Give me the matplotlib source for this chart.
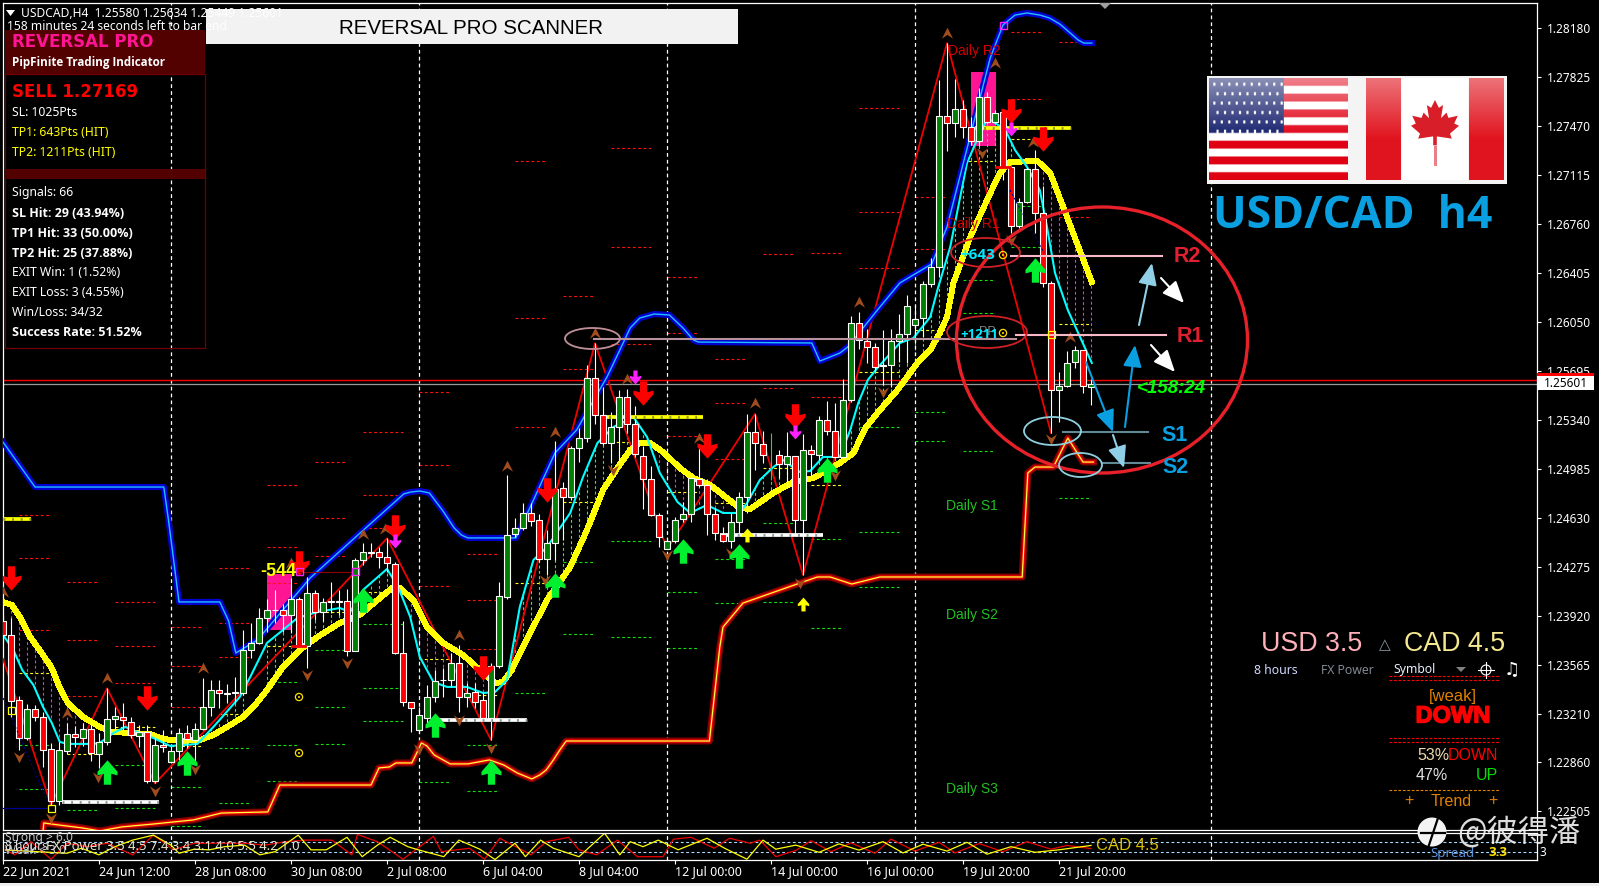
import numpy as np
import matplotlib
matplotlib.use("Agg")
import matplotlib.pyplot as plt
from matplotlib.path import Path
from matplotlib.patches import Rectangle, Ellipse, Polygon, Circle
import matplotlib.patheffects as pe
import logging
logging.getLogger("matplotlib.font_manager").setLevel(logging.ERROR)

plt.rcParams['font.family'] = ['Noto Sans', 'DejaVu Sans']

# candles, in points (1e-5)
opens = [123882,123778,123307,123036,123242,123188,122952,122580,122942,123060,123036,123097,122920,123002,123169,123186,123152,123051,123075,122725,
         122981,122862,122937,123068,123019,123097,123261,123379,123355,123358,123358,123672,123720,123901,123960,123959,123928,124039,123701,124087,
         123950,124020,124020,124029,123667,124324,124378,124385,124343,124293,123652,123292,123090,123179,123329,123452,123454,123580,123334,123365,
         123307,123177,123553,124054,124510,124554,124668,124612,124329,124445,124844,124783,125134,125206,125641,125373,125175,125291,125508,125308,
         125081,124914,124653,124407,124460,124619,124655,124914,124866,124655,124515,124460,124602,124784,125255,125168,np.nan,125083,125020,125076,
         124612,125119,125088,125342,125257,125073,125482,126040,125914,125866,125731,125735,125909,125960,126025,126078,126325,126448,127542,127492,
         127593,127463,127361,127680,127499,127571,127173,126745,126919,127158,126839,126332,125556,125585,125759,125846,125580]
highs = [123925,123901,123338,123280,123273,123225,122995,123007,123145,123121,123140,123140,123068,123394,123261,123285,123188,123128,123128,123044,
         123092,122971,123104,123128,123140,123466,123454,123454,123425,123478,123817,123865,123974,124041,124107,124005,124191,124058,124198,124107,
         124051,124162,124107,124112,124336,124445,124445,124421,124481,124312,123882,123292,123261,123418,123527,123539,123648,123708,123430,123430,
         123370,123575,124167,124941,124626,124735,124735,124658,124542,125187,124892,125151,125279,125738,125895,125581,125400,125557,125561,125443,
         125151,125006,124668,124489,124639,124747,124941,125134,124909,124699,124566,124663,124820,125380,125383,125259,np.nan,125122,125250,125076,
         125235,125158,125371,125477,125460,125634,126093,126124,125996,125895,125992,125996,126108,126245,126173,126346,126513,127803,128071,127810,
         127658,127535,127745,127716,127586,127586,127187,126948,127165,127296,127035,126346,125687,125839,125875,125846,125634]
lows = [123720,123188,122947,123019,123157,122826,122548,122548,122918,122971,122976,122870,122814,122983,123092,123092,123031,122971,122710,122705,
        122935,122850,122874,122959,122862,123092,123193,123249,123285,123285,123346,123611,123715,123805,123865,123805,123793,123672,123544,123889,
        123884,123938,123925,123631,123667,124288,124348,124264,124240,123643,123268,123075,123068,123116,123297,123329,123406,123225,123261,123249,
        123164,123020,123539,124039,124494,124542,124571,124312,124216,124324,124469,124759,125037,125182,125310,125158,125025,125025,125243,125073,
        124694,124643,124416,124402,124445,124602,124602,124856,124506,124469,124455,124409,124518,124663,124977,125025,np.nan,124916,124856,124518,
        124216,124928,125049,125231,125061,125054,125472,125851,125750,125690,125593,125581,125762,125750,125895,125940,126303,126375,127289,127390,
        127383,127332,127325,127492,127492,127078,126694,126730,126912,126694,126303,125245,125324,125578,125716,125534,125449]
closes = [123780,123304,123036,123242,123188,122949,122580,122944,123060,123039,123097,122923,123002,123169,123191,123162,123053,123075,122725,122981,
          122966,122937,123068,123024,123097,123256,123379,123358,123360,123365,123669,123720,123901,123959,123965,123928,124039,123696,124083,123945,
          124022,124024,124029,123667,124322,124380,124382,124343,124300,123652,123292,123254,123198,123329,123445,123456,123580,123329,123358,123297,
          123177,123553,124061,124508,124554,124668,124605,124329,124445,124837,124779,125134,125206,125641,125373,125175,125291,125508,125308,125090,
          124914,124653,124494,124465,124617,124655,124916,124866,124658,124518,124460,124602,124783,125255,125170,125083,np.nan,125018,125076,124612,
          125119,125090,125342,125257,125069,125482,126040,125917,125866,125726,125735,125909,125960,126163,126069,126325,126448,127542,127492,127593,
          127463,127361,127680,127499,127564,127173,126745,126919,127158,126839,126332,125556,125585,125752,125846,125585,125601]

blue_bars = [0,4,20.1,20.7,22,27.1,28.2,29.1,31.8,38.4,43.4,50.1,51,52.1,53.3,55,56.4,57.3,58.1,64.1,65.9,69,71.7,75.5,77.1,78.4,79.6,81.4,83.3,85,86.3,86.9,101.1,102.1,104.6,105.6,109.3,112.1,116.1,118,123.4,125,126.5,128,129.6,130.8,132.1,133.4,134.4,135.1,136.1]
blue_vals = [125179,124853,124853,124607,124020,124020,123882,123650,123744,124194,124455,124803,124817,124824,124810,124679,124556,124505,124484,124484,124708,125100,125266,125651,125846,126006,126078,126107,126100,126006,125919,125904,125897,125766,125824,125868,126136,126332,126470,126738,127963,128202,128274,128289,128274,128253,128209,128144,128093,128071,128071]

band_bars = [5,5.1,7,9.9,12.1,14.8,18.9,23.8,27.3,33.1,34.6,46,47,48.3,49.1,51.1,51.6,52.3,53,53.9,55.9,58.1,60.8,62.6,64.3,66.1,67.1,67.9,68.8,69.6,70.4,88.3,89.6,90,92.5,95,100,101.8,103.4,106.1,109.6,127.4,128.1,129,131.3,133.1,135,136.3]
band_vals = [122353,122418,122403,122382,122360,122389,122411,122440,122490,122498,122693,122693,122817,122824,122853,122853,122911,122998,122976,122911,122846,122846,122875,122838,122780,122737,122766,122802,122875,122947,123012,123012,123694,123838,124012,124063,124165,124201,124201,124150,124201,124201,124955,124998,124998,125208,125034,125034]

yellow_bars = [0,1.1,2.1,3.4,5,6.1,7.1,8.1,10,12.1,13.6,16.1,18.4,20,22.1,24.6,26.3,28.4,30,31.3,33,35,37.1,39.3,42.1,44.6,46.8,48.8,49.6,51.3,53,55,57.5,59.6,61.5,62.5,63.6,64.6,68,70.9,73,75,76.8,78.4,79.6,80.9,82.5,84.6,86.3,88.4,90,92.1,93.4,96.3,98.8,101.3,104.6,106.3,107.8,109.3,111.8,114.3,115.9,117.1,118,118.8,120.9,123,124.6,125.9,129.3,130.9,133,136.1]
yellow_vals = [124020,123998,123911,123766,123636,123541,123396,123288,123186,123114,123077,123070,123063,123027,123012,123019,123056,123128,123186,123259,123382,123549,123672,123766,123868,123926,124034,124128,124121,124034,123839,123723,123636,123527,123433,123440,123527,123650,124034,124273,124542,124831,124991,125121,125172,125172,125107,124991,124918,124868,124795,124701,124694,124810,124890,124918,125027,125100,125281,125390,125556,125752,125846,125969,126085,126332,126665,126933,127129,127209,127216,127129,126810,126339]

cyan_bars = [0,1.3,2.4,3.8,5,6.1,7.1,8.1,11.3,12.1,13.8,15.3,17.1,18.8,20.9,24.3,26.3,29.6,30.9,33,35,36.8,39.3,42.1,43.4,45,48,49.4,50.9,52.1,53.8,55.5,58,60,61.5,63,64.6,66.3,68,70.9,72.5,74.3,76.3,78.8,80.5,82.1,84.3,85.9,88,90,92.1,93,94.6,96.3,97.5,99.6,100.9,102.5,104.6,105.9,106.9,108.1,109.3,112.1,113.8,115.9,116.8,118.4,120.5,121.9,123.1,125.3,126.5,128,129.6,130.5,131.5,133.1,136.1]
cyan_vals = [123781,123672,123527,123418,123259,123143,123005,122991,122991,122998,123070,123114,123070,123034,122976,122991,123114,123331,123476,123723,123817,123904,123947,123976,123947,124107,124259,124128,123911,123621,123440,123404,123404,123360,123367,123454,123984,124324,124418,124665,124926,125172,125288,125361,125216,124955,124745,124665,124723,124665,124665,124737,124904,124998,125049,124962,124969,125071,125071,125266,125462,125629,125716,125897,125933,126085,126281,126593,127202,127390,127528,127441,127296,127173,127006,126738,126404,126136,125752]

zigzag_bars = [0,6,13,19,48,61,74,83,94,100,118,131]
zigzag_vals = [123607,122548,123394,122705,124481,123020,125895,124402,125383,124216,128071,125245]

# daily pivots
level_starts = [2,8,14,21,27,33,39,45,52,58,64,70,76,83,89,95,101,107,114,120,126,132]
level_ends = [6,12,19,25,31,37,43,50,56,62,68,74,81,87,93,99,105,112,118,124,130,136]
level_red = [[124648,124335,123815],[124168,123746,123341],[124019,123698,123430],[123838,123554,123256],[124265,123865,123619],
             [124869,124417,124156],[125033,124628,124350],[125252,124797,124553],[125543,125016,124133],[124367,124032,123676],
             [127216,126078,125288],[126238,125709],[127310,126593,125890],[126375,125969,125223],[125781,125462,125056],
             [126542,125571],[126549,125506],[127600,126846,126441],[126955,126578],[],[128151,127665],[128079,126810]]
level_yellow = [123502,122918,123112,122975,123211,123703,123950,124094,123604,123348,124157,124745,125179,124817,124737,124991,124868,125687,125991,127216,127376,126035]
level_green = [[122983,122667],[122510],[122838,122528],[122679,122396],[122963,122565],[123440,122983,122722],[123669,123261,122988],
               [123858,123393,123154],[122714],[122983,122652],[123360],[124310,123788],[124462,123766],[124092,123686],[124331,124012],
               [124592,124020],[124476,123831],[125288,124527,124128],[125397,125187],[126354,126114,125114],[126890,126593],[124774]]

period_bars = [21,52,83,114,151]
magenta_bars = list(range(1,11)) + list(range(51,61)) + list(range(82,91)) + list(range(129,137))
green_bars = list(range(23,31)) + list(range(33,50)) + list(range(62,82)) + list(range(93,129))

red_arrow_bars = [1,18,37,49,60,68,80,88,99,126,130]
red_arrow_vals = [124194,123324,124302,124563,123541,124831,125535,125151,125368,127578,127376]
green_arrow_bars = [13,23,45,54,61,69,85,92,103,129]
green_arrow_vals = [122788,122853,124034,123128,122788,124143,124389,124353,124976,126426]
yellow_arrow_bars = [93,100]
yellow_arrow_vals = [124505,124005]
magenta_arrow_bars = [49,79,99,126]
magenta_arrow_vals = [124462,125651,125252,127448]
tip_up_bars = [0,8,13,25,36,45,47.8,57,63,69,74,78,87,94,107,118,124,128.8,133.4]
tip_up_vals = [124092,123215,123469,123541,124302,124513,124549,123781,125005,125252,125969,125636,125208,125462,126194,128144,127926,127354,125940]
tip_down_bars = [2,6,11.9,19,24,38,43,52,57,61,67.8,76.2,83,91,99.6,104,110,122.4,126,131]
tip_down_vals = [122896,122454,122751,122650,122809,123491,123578,122954,123165,122961,124179,124976,124360,124375,124157,124940,125542,127274,126643,125201]

white_strip_start = [7.4,54.5,89.6]
white_strip_end = [19.5,65.5,102.5]
white_strip_vals = [122570,123164,124505]
yellow_strip_start = [0,74.6,121.5]
yellow_strip_end = [3.5,87.5,133.5]
yellow_strip_vals = [124621,125361,127455]
pink_start = [33,121]
pink_end = [36.1,124.1]
pink_low = [123817,127325]
pink_high = [124223,127861]

price_ticks = [1.28180,1.27825,1.27470,1.27115,1.26760,1.26405,1.26050,1.25695,1.25340,1.24985,1.24630,1.24275,1.23920,1.23565,1.23210,1.22860,1.22505]
date_bars = [0,12,24,36,48,60,72,84,96,108,120,132]
date_labels = ['22 Jun 2021','24 Jun 12:00','28 Jun 08:00','30 Jun 08:00','2 Jul 08:00','6 Jul 04:00','8 Jul 04:00','12 Jul 00:00','14 Jul 00:00','16 Jul 00:00','19 Jul 20:00','21 Jul 20:00']

# fx power window
power_y_bars = [0.3,8,9.8,12,14,16.2,18.8,21,22,23.9,25.8,27.7,30.2,32.1,34,36.9,38.5,40.4,43,44.9,46.8,48.4,50.6,51.9,55.1,57,59.6,61.5,64,65.3,67.2,68.8,72,75.2,77.1,78.4,80,81.9,84.4,88,90.2,93,95,96.6,99.1,102,104.5,107,110,112.5,115,118,120.5,123,126,129,132,136]
power_y_vals = [3.55,2.5,4.1,2.0,4.6,6.7,8.3,5.1,2.5,3.8,3.6,4.6,5.1,2.0,3.0,8.3,3.6,3.6,7.6,1.4,5.1,7.6,4.6,3.6,1.4,6.7,3.8,0.5,5.7,1.4,6.7,4.1,1.4,8.9,2.0,6.2,4.6,6.7,3.6,7.3,4.1,0.6,6.7,3.8,5.1,2.8,5.5,3.5,6.2,2.6,5.4,3.2,6.0,2.2,4.6,2.8,3.6,5.0]
power_r_bars = [0.3,1.5,3.5,6,8,10.5,13,16.2,18.8,21.3,23.9,26.4,30.2,32.8,35.3,37.9,41.1,43.6,44.3,46.8,50,53.8,54.8,58.3,60.2,62.1,66,67.9,70.7,72,74.2,76.8,79.3,82.5,83.8,86,88.9,90.8,93.4,94.6,96.6,99.1,101,103.5,106,109,111,114,117,119,122,125,128,131,133,136]
power_r_vals = [3.55,2,6.2,0.6,5.7,4.6,5.7,2,8.3,3.6,5.7,5.7,5.7,5.1,6.2,6.7,6.7,2,8.5,6.2,0.6,7.9,3,4.1,0.6,7.3,2,6.2,7.6,3.6,2,6.7,1.4,1.4,7,7.6,4.1,7.3,5.7,6.7,1.4,3.4,6.5,3,5.8,2.5,7,3.2,6,2.6,5.6,3,6.2,3.8,5,4]

panel_rows = [('SL: 1025Pts','white','normal',112),('TP1: 643Pts (HIT)','#ffff00','normal',132),('TP2: 1211Pts (HIT)','#ffff00','normal',152),
              ('Signals: 66','white','normal',192),('SL Hit: 29 (43.94%)','white','bold',213),('TP1 Hit: 33 (50.00%)','white','bold',233),
              ('TP2 Hit: 25 (37.88%)','white','bold',253),('EXIT Win: 1 (1.52%)','white','normal',272),('EXIT Loss: 3 (4.55%)','white','normal',292),
              ('Win/Loss: 34/32','white','normal',312),('Success Rate: 51.52%','white','bold',333)]


def pts(values):
    return np.array(values, dtype=float) / 1e5


W, H = 1599, 886
fig = plt.figure(figsize=(W / 100, H / 100), dpi=100, facecolor='black')

# main chart, bar i sits at pixel 3 + 8 i
ax = fig.add_axes([2.5 / W, (H - 830) / H, 1535 / W, 827.5 / H], facecolor='black')
ax.set_xlim(-0.0625, 191.81)
ax.set_ylim(1.22367, 1.28365)
for s in ax.spines.values():
    s.set_color('white')
    s.set_linewidth(0.9)
ax.yaxis.tick_right()
ax.set_yticks(price_ticks)
ax.set_yticklabels(['%.5f' % p for p in price_ticks])
ax.tick_params(axis='y', colors='white', labelsize=8.5, length=3, width=0.8, pad=4)
ax.set_xticks([])

dash = (0, (2.6, 2.2))
for x0, x1, lo, hi in zip(pink_start, pink_end, pink_low, pink_high):
    ax.add_patch(Rectangle((x0, lo / 1e5), x1 - x0, (hi - lo) / 1e5, color='#ff1493', lw=0, zorder=1))

for x0, x1, r, y, g in zip(level_starts, level_ends, level_red, level_yellow, level_green):
    ax.hlines(pts(r), x0, x1, colors='#ff1010', lw=0.8, linestyles=dash, zorder=2)
    ax.hlines(y / 1e5, x0, x1, colors='#ffff20', lw=0.8, linestyles=dash, zorder=2)
    ax.hlines(pts(g), x0, x1, colors='#10e010', lw=0.8, linestyles=dash, zorder=2)

yl = pts(yellow_vals)
cy = pts(cyan_vals)
for bars, col in ((magenta_bars, '#ff20ff'), (green_bars, '#20ff20')):
    ax.vlines(bars, np.interp(bars, yellow_bars, yl), np.interp(bars, cyan_bars, cy), colors=col, lw=0.8, linestyles=dash, zorder=2)

for b in period_bars:
    ax.axvline(b, color='white', lw=0.9, ls=(0, (3, 2.5)), zorder=2)

ax.axhline(1.25629, color='#ff0000', lw=1, zorder=2)
ax.axhline(1.25601, color='#9a9a9a', lw=0.9, zorder=2)

ax.plot(zigzag_bars, pts(zigzag_vals), color='#f00000', lw=1.3, zorder=3)
ax.plot(yellow_bars, yl, color='#ffff00', lw=3.5, zorder=3, antialiased=False)
ax.plot(cyan_bars, cy, color='#00ffff', lw=1.5, zorder=3)
ax.plot(blue_bars, pts(blue_vals), color='#0000d0', lw=4.4, zorder=3)
ax.plot(blue_bars, pts(blue_vals), color='#20c0ff', lw=1, zorder=3)
ax.plot(band_bars, pts(band_vals), color='#800000', lw=5, zorder=3)
ax.plot(band_bars, pts(band_vals), color='#e80000', lw=2.6, zorder=3)
ax.plot(band_bars, pts(band_vals), color='#ffff40', lw=0.9, zorder=3)

# candles
o, hi_, lo_, c = pts(opens), pts(highs), pts(lows), pts(closes)
bars = np.arange(len(o))
ok = ~np.isnan(o)
ax.vlines(bars[ok], lo_[ok], hi_[ok], colors='white', lw=0.8, zorder=4)
ax.vlines(96, 1.24904, 1.25243, colors='#20e020', lw=0.8, zorder=4)
body_cols = np.where(c[ok] >= o[ok], '#008000', '#ff0000')
ax.bar(bars[ok], (c - o)[ok], bottom=o[ok], width=0.66, color=body_cols, edgecolor='white', linewidth=0.8, zorder=5)

for x0, x1, v in zip(white_strip_start, white_strip_end, white_strip_vals):
    ax.plot([x0, x1], [v / 1e5, v / 1e5], color='white', lw=2.7, zorder=4.5, solid_capstyle='butt')
    ax.plot([x0, x1], [v / 1e5, v / 1e5], color='#8a9a9a', lw=2, ls=(0, (0.7, 2.4)), zorder=4.5)
for x0, x1, v in zip(yellow_strip_start, yellow_strip_end, yellow_strip_vals):
    ax.plot([x0, x1], [v / 1e5, v / 1e5], color='#ffff00', lw=2.7, zorder=4.5, solid_capstyle='butt')
    ax.plot([x0, x1], [v / 1e5, v / 1e5], color='#8a9a20', lw=2, ls=(0, (0.7, 2.4)), zorder=4.5)

down_path = Path([(-.15,.5),(.15,.5),(.15,.05),(.41,.12),(.41,-.03),(0,-.5),(-.41,-.03),(-.41,.12),(-.15,.05),(-.15,.5)])
up_path = Path([(x, -y) for x, y in down_path.vertices])
tip_up = Path([(0,.5),(.48,-.45),(0,-.12),(-.48,-.45),(0,.5)])
tip_down = Path([(x, -y) for x, y in tip_up.vertices])

ax.scatter(tip_up_bars, pts(tip_up_vals), marker=tip_up, s=70, c='#a04c1c', lw=0, zorder=5.5)
ax.scatter(tip_down_bars, pts(tip_down_vals), marker=tip_down, s=70, c='#a04c1c', lw=0, zorder=5.5)
ax.scatter(red_arrow_bars, pts(red_arrow_vals), marker=down_path, s=310, c='#ff0000', lw=0, zorder=6)
ax.scatter(green_arrow_bars, pts(green_arrow_vals), marker=up_path, s=310, c='#00f030', lw=0, zorder=6)
ax.scatter(yellow_arrow_bars, pts(yellow_arrow_vals), marker=up_path, s=100, c='#ffff00', lw=0, zorder=6)
ax.scatter(magenta_arrow_bars, pts(magenta_arrow_vals), marker=down_path, s=100, c='#ff20ff', lw=0, zorder=6)

# power window under the chart
sub = fig.add_axes([2.5 / W, (H - 860) / H, 1535 / W, 27.3 / H], facecolor='black')
sub.set_xlim(-0.0625, 191.81)
sub.set_ylim(0.345, 9.07)
for s in sub.spines.values():
    s.set_color('white')
    s.set_linewidth(0.9)
sub.set_yticks([])
sub.set_xticks(date_bars)
sub.set_xticklabels(date_labels, ha='left')
sub.tick_params(axis='x', colors='white', labelsize=9, length=3, width=0.8, pad=0.5)
sub.axhline(6, color='#a8d8ff', lw=0.8, ls=dash)
sub.axhline(3, color='#a8d8ff', lw=0.8, ls=dash)
for b in period_bars:
    sub.axvline(b, color='white', lw=0.9, ls=(0, (3, 2.5)))
sub.plot(power_r_bars, power_r_vals, color='#f00000', lw=0.9)
sub.plot(power_y_bars, power_y_vals, color='#ffff00', lw=0.9)

# everything hand placed goes on a pixel layer
ov = fig.add_axes([0, 0, 1, 1], zorder=10)
ov.patch.set_alpha(0)
ov.set_axis_off()


def label(x, y, s, **kw):
    kw.setdefault('color', 'white')
    kw.setdefault('va', 'center')
    kw.setdefault('fontsize', 9)
    return ov.text(x, y, s, **kw)


ov.add_patch(Rectangle((0, 883), W, 3, color='#f0f0f0', lw=0))

# header and left panel
ov.add_patch(Polygon([(6, 10), (15, 10), (10.5, 16)], color='white', lw=0))
label(21, 13, 'USDCAD,H4  1.25580 1.25634 1.25449 1.25601', fontsize=8.7)
label(7, 26, '158 minutes 24 seconds left to bar end', fontsize=8.7)
ov.add_patch(Rectangle((5, 30), 200, 44, color='#520000', lw=0))
ov.add_patch(Rectangle((5, 74), 200, 274, fc='none', ec='#700000', lw=0.9))
ov.add_patch(Rectangle((5, 169), 200, 10, color='#520000', lw=0))
label(12, 42, 'REVERSAL PRO', color='#ff1493', fontsize=12, fontweight='bold', family='DejaVu Sans')
label(12, 62, 'PipFinite Trading Indicator', fontsize=8.4, fontweight='bold', family='Open Sans')
label(12, 92, 'SELL 1.27169', color='#ff0000', fontsize=12, fontweight='bold', family='DejaVu Sans')
for txt, col, wt, y in panel_rows:
    if wt == 'bold':
        label(12, y, txt, color=col, fontweight=wt, fontsize=9, family='Open Sans')
    else:
        label(12, y, txt, color=col, fontsize=8.8)

ov.add_patch(Rectangle((206, 9), 532, 35, color='#f2f2f2', lw=0))
label(471, 28, 'REVERSAL PRO SCANNER', color='black', ha='center', fontsize=14.8, family='Liberation Sans')
ov.add_patch(Polygon([(1099, 3), (1111, 3), (1105, 9)], color='#a0a0a0', lw=0))

# flags
ov.add_patch(Rectangle((1206.5, 76), 300, 108, color='#f4f4f4', lw=0))
fh, fw = 65, 130
gloss = np.clip(0.5 - 0.5 * np.arange(fh) / 38, 0, 1)[:, None, None]
us = np.ones((fh, fw, 3))
for row in range(13):
    if row % 2 == 0:
        us[row * 5:(row + 1) * 5] = (0.88, 0.0, 0.08)
us[:35, :70] = (0.08, 0.12, 0.42)
for j in range(3, 35, 6):
    for i in range(4 + (j // 6) % 2 * 3, 68, 7):
        us[j:j + 2, i:i + 2] = 1
us = us * (1 - gloss) + gloss
ca = np.ones((fh, fw, 3))
ca[:, :33] = (0.88, 0.08, 0.12)
ca[:, 97:] = (0.88, 0.08, 0.12)
ca = ca * (1 - gloss * 0.8) + gloss * 0.8
ov.imshow(us, extent=(1209, 1348, 180, 78), aspect='auto', interpolation='bilinear', zorder=1)
ov.imshow(ca, extent=(1366, 1504, 180, 78), aspect='auto', interpolation='bilinear', zorder=1)
half = [(0,-1),(.13,-.72),(.27,-.82),(.2,-.35),(.38,-.55),(.45,-.36),(.76,-.44),(.64,-.16),(.8,-.08),(.5,.2),(.56,.38),(.06,.3),(.06,.62)]
leaf = half + [(-x, y) for x, y in half[::-1]][:-1]
ov.add_patch(Polygon([(1435 + 30 * x, 128 + 28 * y) for x, y in leaf], color='#d81e28', lw=0, zorder=2))
ov.add_patch(Rectangle((1434, 146), 3, 20, color='#e88088', lw=0, zorder=2))
label(1213, 216, 'USD/CAD  h4', color='#0a9fe0', fontsize=32, fontweight='bold', family='Open Sans')

# hand drawn analysis
ov.add_patch(Ellipse((1102, 340), 291, 266, fc='none', ec='#e8202a', lw=2.4, zorder=4))
for (x0, x1, y0, y1), col in (((951, 1020, 238, 267), '#d02028'), ((947, 1027, 316, 348), '#d02028'), ((1024, 1081, 417, 445), '#8fd0e0'),
                              ((1059, 1102, 453, 477), '#8fd0e0'), ((565, 620, 328, 349), '#c09098')):
    ov.add_patch(Ellipse(((x0 + x1) / 2, (y0 + y1) / 2), x1 - x0, y1 - y0, fc='none', ec=col, lw=1.3, zorder=4))
ov.plot([594, 1016], [339, 339], color='#b8919c', lw=1.5, zorder=3)
ov.plot([1011, 1162], [256, 256], color='#f8b8c8', lw=1.5, zorder=3)
ov.plot([1016, 1166], [335, 335], color='#f8b8c8', lw=1.5, zorder=3)
ov.plot([1063, 1148], [432, 432], color='#5f8a96', lw=1.5, zorder=3)
ov.plot([1102, 1150], [463, 463], color='#5f8a96', lw=1.5, zorder=3)
for (xy0, xy1), col in ((((1139, 325), (1152, 263)), '#90d0e6'), (((1086, 362), (1113, 432)), '#0a9fe0'), (((1125, 427), (1135, 345)), '#0a9fe0'),
                        (((1113, 435), (1124, 468)), '#90d0e6'), (((1161, 278), (1184, 303)), 'white'), (((1151, 345), (1175, 372)), 'white')):
    ov.annotate('', xy=xy1, xytext=xy0, zorder=5,
                arrowprops=dict(arrowstyle='-|>,head_length=0.7,head_width=0.3', color=col, lw=1.5, mutation_scale=19, shrinkA=0, shrinkB=0))
for x, y, s, col in ((1174, 256, 'R2', '#e02030'), (1177, 336, 'R1', '#e02030'), (1161, 435, 'S1', '#0a9fe0'), (1162, 467, 'S2', '#0a9fe0')):
    label(x, y, s, color=col, fontsize=15.5, fontweight='bold', family='Liberation Sans', zorder=5)
label(1137, 388, '<158:24', color='#00ff00', fontsize=13.5, fontweight='bold', style='italic', family='Liberation Sans', zorder=5)
label(979, 332, 'PP', color='#808080', fontsize=9, family='Liberation Sans', zorder=4.5)
label(960, 255, '+643', color='#00e8ff', fontsize=11, fontweight='bold', family='Open Sans', zorder=5)
label(960, 334, '+1211', color='#00e8ff', fontsize=9.5, fontweight='bold', family='Open Sans', zorder=5)
label(948, 51, 'Daily R2', color='#d00000', fontsize=10, family='Liberation Sans', zorder=3)
label(947, 224, 'Daily R1', color='#d00000', fontsize=10, family='Liberation Sans', zorder=3)
for y, s in ((506, 'Daily S1'), (615, 'Daily S2'), (789, 'Daily S3')):
    label(946, y, s, color='#20c020', fontsize=10, family='Liberation Sans')
label(260, 572, '-544', color='#ffff00', fontsize=13, fontweight='bold', family='Liberation Sans', zorder=6)

# small marks
ov.plot([299, 351], [571.5, 571.5], color='#900000', lw=0.8, zorder=3)
ov.plot([3, 50], [698, 807], color='#000090', lw=0.8, ls=(0, (2, 2)), zorder=3)
ov.plot([3, 47], [808, 808], color='#000090', lw=0.9, zorder=3)
ov.plot([1010, 1044], [190, 253], color='#000090', lw=0.8, ls=(0, (2, 2)), zorder=3)
ov.plot([292, 305], [646, 646], color='#f00000', lw=2, zorder=4)
ov.plot([996, 1010], [167, 167], color='#f00000', lw=2, zorder=4)
for x, y in ((299, 571), (1003, 25), (355, 571)):
    ov.add_patch(Rectangle((x - 3.5, y - 3.5), 7, 7, fc='none', ec='#ff20ff', lw=1, zorder=6))
for x, y in ((11, 710), (51, 808), (1051, 334)):
    ov.add_patch(Rectangle((x - 3.5, y - 3.5), 7, 7, fc='none', ec='#ffff00', lw=0.9, zorder=6))
for x, y in ((299, 697), (299, 753), (1003, 255), (1003, 333)):
    ov.add_patch(Circle((x, y), 3.6, fc='none', ec='#ffe000', lw=0.9, zorder=6))
    ov.add_patch(Circle((x, y), 1, color='#ffe000', lw=0, zorder=6))

# price box
ov.add_patch(Rectangle((1537, 373), 57, 3, color='#ff0000', lw=0))
ov.add_patch(Rectangle((1537, 376), 57, 14, color='white', lw=0))
label(1544, 383, '1.25601', color='black', fontsize=8.5)

# fx power box
label(1261, 644, 'USD 3.5', color='#ffb0b8', fontsize=19.3, family='Liberation Sans')
label(1385, 645, '\u25b3', color='#8a9aa0', fontsize=11, ha='center', family='DejaVu Sans')
label(1404, 644, 'CAD 4.5', color='#f5e890', fontsize=19.3, family='Liberation Sans')
label(1254, 670, '8 hours', color='#d0d8ff', fontsize=8.8)
label(1321, 670, 'FX Power', color='#808890', fontsize=8.8)
label(1393, 670, 'Symbol', color='#e8f0ff', fontsize=8.8)
ov.add_patch(Polygon([(1456, 667), (1466, 667), (1461, 672)], color='#808080', lw=0))
ov.add_patch(Circle((1486, 670), 5, fc='none', ec='white', lw=0.8))
ov.plot([1478, 1494], [670, 670], color='white', lw=0.8)
ov.plot([1486, 1486], [662, 678], color='white', lw=0.8)
label(1512, 670, '\u266b', fontsize=13, ha='center', family='DejaVu Sans')
for y in (676, 679.5, 738, 741.7):
    ov.plot([1389, 1499], [y, y], color='#ff0000', lw=0.8, ls=(0, (2.5, 1.5)))
ov.plot([1389, 1499], [790, 790], color='#e08000', lw=0.8, ls=(0, (2.5, 1.5)))
label(1453, 696, '[weak]', color='#e08000', fontsize=12, ha='center', family='Liberation Sans')
t = label(1453, 716, 'DOWN', color='#ff0000', fontsize=17, fontweight='bold', ha='center', family='Liberation Sans')
t.set_path_effects([pe.withStroke(linewidth=1, foreground='#ff0000')])
label(1417, 756, '53%', color='#f0d8b0', fontsize=11.5, family='Liberation Sans')
label(1498, 756, 'DOWN', color='#ff0000', fontsize=11.5, ha='right', family='Liberation Sans')
label(1416, 775, '47%', color='#e0e0e0', fontsize=11.5, family='Liberation Sans')
label(1498, 775, 'UP', color='#00e000', fontsize=11.5, ha='right', family='Liberation Sans')
label(1409, 801, '+', color='#e08000', fontsize=11.5, ha='center', family='Liberation Sans')
label(1451, 801, 'Trend', color='#e08000', fontsize=11.5, ha='center', family='Liberation Sans')
label(1493, 801, '+', color='#e08000', fontsize=11.5, ha='center', family='Liberation Sans')

# sub window texts
label(5, 838, 'Strong > 6.0', color='#c8c8c8', fontsize=8.6)
label(5, 850, 'Weak < 3.0', color='#c8c8c8', fontsize=8.6)
label(5, 846, '8 hours', color='#e0e0e0', fontsize=8.6)
label(46, 846, 'FX Power 3.5 4.5 7.4 3.4 3.1 4.0 5.5 4.2 1.0', color='#e8e8d0', fontsize=9.4)
label(1096, 846, 'CAD 4.5', color='#d8c000', fontsize=12, family='Liberation Sans')
label(1430, 853, 'Spread', color='#5a90d8', fontsize=9.6)
label(1488, 853, '3.3', color='#ffe000', fontsize=9.6, fontweight='bold', family='Open Sans')
label(1540, 852, '3', color='white', fontsize=8.5)

# watermark
ov.add_patch(Circle((1432, 832), 14.5, color='#f4f4f4', lw=0, zorder=7))
ov.plot([1421, 1445], [833, 833], color='black', lw=1.6, zorder=7)
ov.plot([1428, 1438], [848, 818], color='black', lw=1.6, zorder=7)
label(1457, 833, '@\u5f7c\u5f97\u6f58', color='#f0f0f0', fontsize=22.5, family=['Noto Sans CJK SC', 'DejaVu Sans'], zorder=7, alpha=0.92)

ov.set_xlim(0, W)
ov.set_ylim(H, 0)

fig.savefig('out.png', dpi=100, facecolor='black')
